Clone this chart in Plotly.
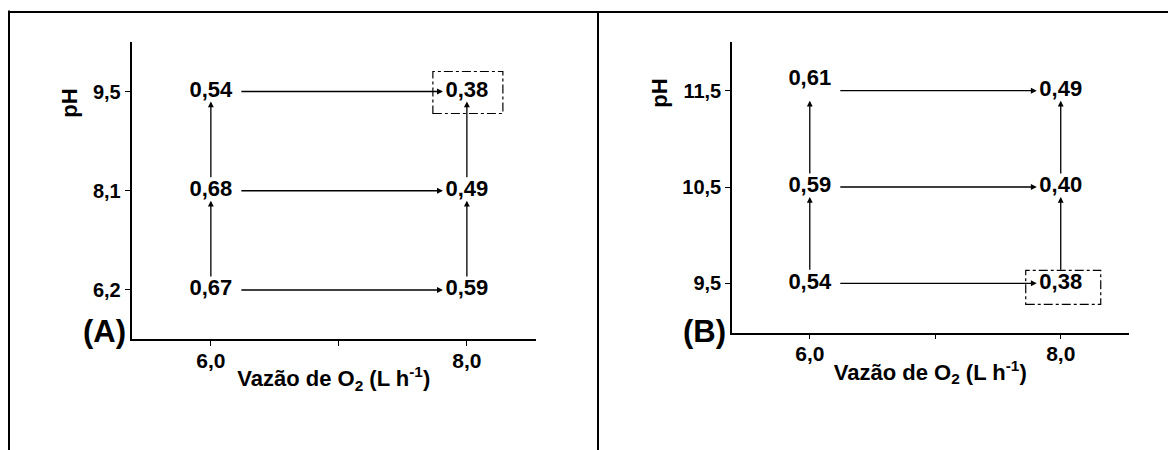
import plotly.graph_objects as go

# ---------------- data ----------------
flow = [6.0, 8.0]                       # O2 flow (L/h) of the grid columns
flow_minor_ticks = [7.0]
flow_ticktext = ["6,0", "8,0"]

ph_A = ["6,2", "8,1", "9,5"]            # bottom -> top
val_A_6 = [0.67, 0.68, 0.54]            # at flow 6,0
val_A_8 = [0.59, 0.49, 0.38]            # at flow 8,0

ph_B = ["9,5", "10,5", "11,5"]
val_B_6 = [0.54, 0.59, 0.61]
val_B_8 = [0.38, 0.40, 0.49]

x_title = "Vazão de O<sub>2</sub> (L h<sup>-1</sup>)"
y_title = "pH"
panel_labels = ["(A)", "(B)"]

# ---------------- style ----------------
OFF = 8                                  # page body margin of the html page
W, H = 1176 - OFF, 450 - OFF
FONT = "Liberation Sans, Arial, sans-serif"
BLACK = "black"


def px(sx):
    return (sx - OFF) / W


def py(sy):
    return 1 - (sy - OFF) / H


panels = [
    dict(ph=ph_A, vals=[val_A_6, val_A_8], xa="x", ya="y", xa_name="xaxis", ya_name="yaxis",
         xdom=(131.5, 536.0), ytop=41.7, ybot=339.0, yrange=[-0.494, 2.502],
         textpos=[["middle center"] * 3, ["middle center"] * 3],
         box=(-34, 36, -22, 20), label=panel_labels[0], label_xy=(104, 331), ph_xy=(69.5, 103.3)),
    dict(ph=ph_B, vals=[val_B_6, val_B_8], xa="x2", ya="y2", xa_name="xaxis2", ya_name="yaxis2",
         xdom=(732.0, 1128.5), ytop=41.7, ybot=332.5, yrange=[-0.511, 2.509],
         textpos=[["middle center", "middle center", "top center"], ["middle center"] * 3],
         box=(-35, 40, -21, 13), label=panel_labels[1], label_xy=(704, 331), ph_xy=(659.5, 93.3)),
]
XRANGE = [5.38, 8.54]


def fmt(v):
    return f"{v:.2f}".replace(".", ",")


fig = go.Figure()
annotations = []
shapes = []

for p in panels:
    levels = list(range(len(p["ph"])))
    # value labels
    xs, ys, txt, pos = [], [], [], []
    for j, fx in enumerate(flow):
        for i in levels:
            xs.append(fx)
            ys.append(i)
            txt.append(fmt(p["vals"][j][i]))
            pos.append(p["textpos"][j][i])
    fig.add_trace(go.Scatter(
        x=xs, y=ys, text=txt, mode="text", textposition=pos,
        textfont=dict(family=FONT, size=22, color=BLACK, weight="bold"),
        xaxis=p["xa"], yaxis=p["ya"], showlegend=False, hoverinfo="skip"))

    arrow_style = dict(xref=p["xa"], yref=p["ya"], axref=p["xa"], ayref=p["ya"],
                       text="", showarrow=True, arrowhead=2, arrowsize=0.9,
                       arrowwidth=1.3, arrowcolor=BLACK)
    # horizontal arrows: low flow -> high flow
    for i in levels:
        annotations.append(dict(x=flow[1], y=i, ax=flow[0], ay=i,
                                startstandoff=29, standoff=24, **arrow_style))
    # vertical arrows: low pH -> high pH
    for fx in flow:
        for i in levels[:-1]:
            annotations.append(dict(x=fx, y=i + 1, ax=fx, ay=i,
                                    startstandoff=12, standoff=10, **arrow_style))

    # dash-dot box around the minimum value
    best = min(((p["vals"][j][i], j, i) for j in range(len(flow)) for i in levels))
    bx0, bx1, by0, by1 = p["box"]
    shapes.append(dict(type="rect", xref=p["xa"], yref=p["ya"],
                       xsizemode="pixel", ysizemode="pixel",
                       xanchor=flow[best[1]], yanchor=best[2],
                       x0=bx0, x1=bx1, y0=by0, y1=by1,
                       line=dict(color=BLACK, width=1.2, dash="dashdot")))

    # panel label and pH label
    lx, ly = p["label_xy"]
    annotations.append(dict(x=px(lx), y=py(ly), xref="paper", yref="paper",
                            xanchor="center", yanchor="middle",
                            text=p["label"], showarrow=False,
                            font=dict(family=FONT, size=31, color=BLACK, weight="bold")))
    hx, hy = p["ph_xy"]
    annotations.append(dict(x=px(hx), y=py(hy), xref="paper", yref="paper",
                            xanchor="center", yanchor="middle",
                            text=y_title, showarrow=False, textangle=-90,
                            font=dict(family=FONT, size=22, color=BLACK, weight="bold")))

    axis_common = dict(showline=True, linecolor=BLACK, linewidth=1.5, showgrid=False,
                       zeroline=False, ticks="outside", ticklen=5, tickwidth=1.3,
                       tickcolor=BLACK)
    fig.update_layout(**{
        p["xa_name"]: dict(
            domain=[px(p["xdom"][0]), px(p["xdom"][1])], range=XRANGE,
            tickvals=flow, ticktext=flow_ticktext, ticklabelstandoff=-3,
            minor=dict(tickvals=flow_minor_ticks, ticks="outside", ticklen=5,
                       tickwidth=1.3, tickcolor=BLACK, showgrid=False),
            tickfont=dict(family=FONT, size=21, color=BLACK, weight="bold"),
            title=dict(text=x_title, standoff=0,
                       font=dict(family=FONT, size=22, color=BLACK, weight="bold")),
            anchor=p["ya"], **axis_common),
        p["ya_name"]: dict(
            domain=[py(p["ybot"]), py(p["ytop"])], range=p["yrange"],
            tickvals=levels, ticktext=p["ph"], ticklabelstandoff=0,
            tickfont=dict(family=FONT, size=20, color=BLACK, weight="bold"),
            anchor=p["xa"], **axis_common),
    })

# outer frame lines
frame = dict(type="line", xref="paper", yref="paper", line=dict(color=BLACK, width=2))
shapes.append(dict(x0=px(9), x1=px(9), y0=0, y1=py(10.5), **frame))
shapes.append(dict(x0=px(8), x1=1, y0=py(12), y1=py(12), **frame))
shapes.append(dict(x0=px(598), x1=px(598), y0=0, y1=py(12), **frame))

fig.update_layout(
    width=W, height=H, autosize=False,
    margin=dict(l=0, r=0, t=0, b=0),
    paper_bgcolor="white", plot_bgcolor="white",
    annotations=annotations, shapes=shapes, showlegend=False,
)

fig.write_html("out.html")
